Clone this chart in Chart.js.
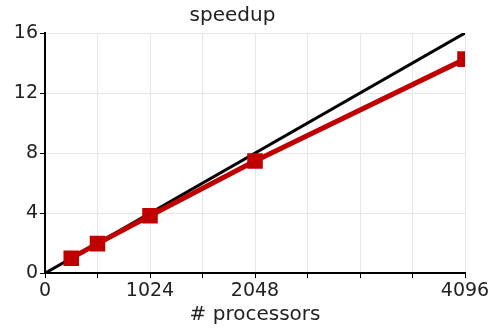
<!DOCTYPE html>
<html lang="en">
<head>
    <meta charset="UTF-8">
    <title>speedup</title>
    <script src="https://cdn.jsdelivr.net/npm/chart.js"></script>
    <style>
        html, body { margin: 0; padding: 0; background: #fff; }
        .chart-container { width: 498px; height: 329px; }
    </style>
</head>
<body>
    <div class="chart-container">
        <canvas id="myChartSpeedup"></canvas>
    </div>

<script>
    // measured speedup vs number of processors
    var processors = [256, 512, 1024, 2048, 4096]
    var speedup    = [1.0, 1.97, 3.83, 7.47, 14.26]
    // ideal (linear) speedup
    var idealProcs   = [0, 4096]
    var idealSpeedup = [0, 16]
    var xLabels = [0, 1024, 2048, 4096]
    var yTicks  = [0, 4, 8, 12, 16]

    function ctxSpeedup(){
        const ctx = document.getElementById('myChartSpeedup').getContext('2d');
        const font = "'DejaVu Sans', sans-serif";

        const data = {
            datasets: [
                {
                    label: 'ideal',
                    data: idealProcs.map((p, i) => ({ x: p, y: idealSpeedup[i] })),
                    borderColor: '#000000',
                    borderWidth: 3,
                    pointRadius: 0,
                    order: 1
                },
                {
                    label: 'speedup',
                    data: processors.map((p, i) => ({ x: p, y: speedup[i] })),
                    borderColor: '#c00000',
                    backgroundColor: '#c00000',
                    borderWidth: 5,
                    pointStyle: 'rect',
                    pointRadius: 11,
                    pointBorderWidth: 0,
                    order: 0
                }
            ]
        };

        const config = {
            type: 'line',
            data: data,
            options: {
                responsive: true,
                maintainAspectRatio: false,
                animation: false,
                layout: { padding: { left: 0, right: 33, top: 4, bottom: 2 } },
                plugins: {
                    legend: { display: false },
                    tooltip: { enabled: false },
                    title: {
                        display: true,
                        text: 'speedup',
                        color: '#222',
                        font: { family: font, size: 20, weight: 'normal' },
                        padding: { top: 0, bottom: 5 }
                    }
                },
                scales: {
                    x: {
                        type: 'linear',
                        min: 0,
                        max: 4096,
                        border: { color: '#000', width: 2 },
                        grid: { color: '#e6e6e6', lineWidth: 1, tickColor: '#000', tickLength: 5 },
                        ticks: {
                            stepSize: 512,
                            autoSkip: false,
                            maxRotation: 0,
                            color: '#222',
                            font: { family: font, size: 19 },
                            padding: 1,
                            callback: (v) => xLabels.includes(v) ? String(v) : ''
                        },
                        title: {
                            display: true,
                            text: '# processors',
                            color: '#222',
                            font: { family: font, size: 20 },
                            padding: { top: 0, bottom: 0 }
                        }
                    },
                    y: {
                        min: 0,
                        max: 16,
                        border: { color: '#000', width: 2 },
                        grid: { color: '#e6e6e6', lineWidth: 1, tickColor: '#000', tickLength: 5 },
                        afterFit: (scale) => { scale.width = 45; },
                        afterBuildTicks: (scale) => { scale.ticks = yTicks.map(v => ({ value: v })); },
                        ticks: {
                            color: '#222',
                            font: { family: font, size: 19 },
                            padding: 2
                        }
                    }
                }
            }
        };

        new Chart(ctx, config);
    }

    ctxSpeedup()
</script>
</body>
</html>
